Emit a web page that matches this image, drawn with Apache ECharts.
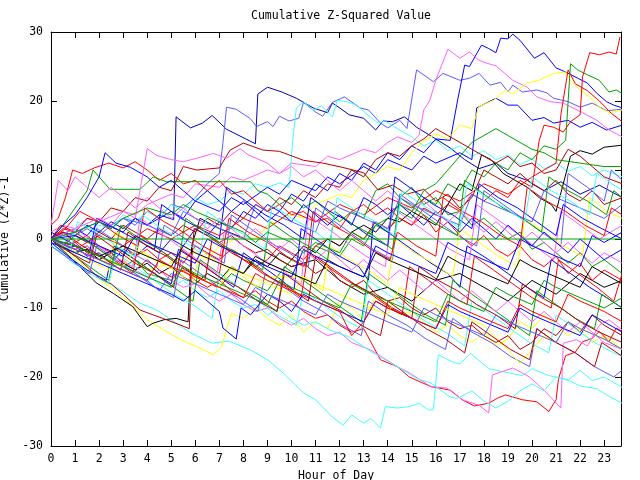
<!DOCTYPE html>
<html>
<head>
<meta charset="utf-8">
<script src="https://cdn.jsdelivr.net/npm/echarts@6/dist/echarts.min.js"></script>
<style>
  html, body { margin: 0; padding: 0; background: #fff; }
  #main { width: 640px; height: 480px; }
</style>
</head>
<body>
<div id="main"></div>
<script>
// each series: [hour, cumulative (z*z)-1] pairs
const s01 = [[0,0],[0.5,1],[1,0.5],[1.5,2],[2,1],[2.5,2.5],[3,1.5],[3.5,3],[4,2],[4.5,3.5],[5.1,2.8],[5.2,17.7],[5.8,16.1],[6.3,16.8],[6.7,17.9],[7.3,15.9],[8.1,14.5],[8.5,13.8],[8.6,21],[9,22],[9.6,21.3],[10.2,20.4],[10.9,19],[11.5,18.3],[11.7,19.7],[12,19],[12.4,18],[13,17.5],[13.5,15.8],[13.8,17.1],[14.2,17],[14.7,17.7],[15.2,16.2],[16,14.5],[16.6,13.2],[17.2,11.5],[17.8,10.2],[18.5,11],[19,9.5],[19.8,8.5],[20.5,7],[21.2,8.3],[22,6.5],[22.8,7.8],[23.75,6]]
const s02 = [[0,0],[0.5,-1],[1,0.5],[1.5,1.5],[2,0.5],[2.5,2],[3,3],[3.5,2],[4,4],[4.5,3],[5,5],[5.5,4.5],[6,6],[6.5,8],[7,9.5],[7.15,14],[7.3,19.1],[7.7,18.8],[8.27,17.5],[8.55,16.3],[9,17],[9.23,16.3],[9.5,17.8],[9.9,17.1],[10.3,17.5],[10.5,19.8],[11,18.4],[11.3,17.8],[11.7,19.8],[12.2,20.6],[12.85,19],[13.2,18.7],[13.7,16.8],[14,16.1],[14.5,17.2],[14.8,16],[15.2,24.5],[15.9,22.8],[16.3,24],[17,23],[17.4,23.3],[17.8,24],[18.25,22.3],[18.7,22.7],[19,21.3],[19.2,22.3],[19.6,21.3],[20.2,21.6],[20.6,21.2],[20.9,20.4],[21.5,19.9],[22,19.1],[22.5,19.7],[23.1,18.6],[23.75,18.8]]
const s03 = [[0,0.5],[0.5,-0.5],[1,1],[1.5,0],[2,2],[2.5,1.5],[3,3.5],[3.5,2.5],[4,4],[4.5,3],[5,5],[5.5,4],[6,6],[6.5,5],[7,5.5],[7.5,7],[8,6.5],[8.5,8],[9,7.5],[9.5,8.1],[9.9,7.5],[10.05,14.3],[10.2,19],[10.5,19.9],[10.9,18.7],[11.25,19.3],[11.7,17.7],[11.9,20.1],[12.3,19.9],[12.7,19.4],[13.1,18.2],[13.6,16.8],[13.9,17.1],[14.3,16.2],[15,14.8],[15.5,13.5],[16,14.3],[16.5,12.8],[17,13.5],[17.5,12],[18,12.8],[18.5,11.5],[19,12.2],[19.5,10.8],[20,11.6],[20.5,10.2],[21,11],[21.5,9.8],[22,10.5],[22.5,9.2],[23,10],[23.75,9]]
const s04 = [[0,0],[0.5,-1.5],[1,-1],[1.5,-2.5],[2,-2],[2.5,-3.5],[3,-1.5],[3.5,-2.5],[4,-1],[4.5,-2],[5,0],[5.5,-1],[6,1.5],[6.5,0.5],[7,2.5],[7.5,1.5],[8,4],[8.5,3],[9,5],[9.5,4],[10,6.5],[10.5,5.5],[11,8],[11.5,7],[12,9.5],[12.5,8.5],[13,11],[13.5,10],[14,12.5],[14.5,11.5],[15,13.5],[15.5,12.5],[16,14.5],[16.6,14.3],[16.9,20],[17.2,25.2],[17.4,25],[17.9,28.1],[18.2,27.6],[18.5,27],[18.7,29.1],[19,29],[19.2,29.7],[19.5,28.8],[20.1,26.2],[20.5,27],[21,24.8],[21.4,24.2],[21.9,23.3],[22.3,22.6],[22.7,21.1],[23.1,19.9],[23.4,19.4],[23.75,19]]
const s05 = [[0,0],[1,1.5],[1.5,0.5],[2,2.5],[3,1],[3.5,3],[4,2],[5,4],[5.5,3],[6,5.5],[7,4],[7.5,6],[8,5],[9,7.5],[9.5,6.5],[10,8.5],[11,7],[11.5,9],[12,8],[13,10.5],[13.5,9.5],[14,11.5],[15,10],[15.5,12],[16,11],[17,12.5],[17.5,11.5],[17.7,19],[18.5,20.4],[19,19.4],[19.4,19.4],[20,17.2],[20.5,17.6],[20.9,16.8],[21.5,17.2],[22,16.2],[22.5,16.9],[23.1,15.8],[23.75,16.5]]
const s06 = [[0,1],[0.5,2],[1,1.5],[1.5,3],[2,2.5],[3,4],[3.5,3.5],[4,5],[5,6.5],[5.5,6],[6,8],[7,7.5],[7.5,9],[8,8.5],[9,10],[9.5,9.5],[10,11],[11,10.5],[11.5,12],[12,11.5],[13,13],[13.5,12.5],[14,14],[14.4,14.8],[15,14],[15.3,15],[15.5,18.7],[15.75,20.1],[16,23],[16.5,27.5],[17,26.2],[17.4,27.1],[17.8,25.9],[18.1,25.5],[18.5,25.1],[19.2,23],[19.8,22],[20.2,20.6],[20.75,19.9],[21.3,19.7],[22.1,18.3],[22.7,17.2],[23.2,15.8],[23.75,14.8]]
const s07 = [[0,0],[0.5,-1],[1,-2],[1.5,-1.5],[2,-3],[3,-4],[3.5,-3],[4,-4.5],[5,-3.5],[6,-2],[6.5,-3],[7,-1],[8,0.5],[8.5,0],[9,2],[10,3.5],[10.5,3],[11,5],[12,6.5],[12.5,6],[13,8.5],[14,10.5],[14.5,10],[15,12.5],[15.5,14.2],[16,15.2],[16.5,14.5],[17,16.5],[17.5,16],[17.8,19.2],[18.4,20.1],[18.9,21.6],[19.2,21],[19.8,22.6],[20.3,23],[20.9,24],[21.4,24.2],[21.6,23],[22,21.6],[22.4,20.6],[22.8,19.1],[23.2,18.3],[23.75,18.7]]
const s08 = [[0,0],[0.5,-1],[1,-2],[1.5,-1],[2,-2.5],[3,-4],[3.5,-3],[4,-5],[5,-6],[5.5,-4],[6,-5.5],[7,-7],[7.5,-5],[8,-6],[9,-7.5],[9.5,-5],[10,-3],[10.5,-4],[11,-1],[12,-2.5],[12.5,0],[13,-1],[13.5,2],[14,1],[14.5,4],[15,3],[15.5,6],[16,5],[16.5,8],[17,7],[17.5,10],[18,9],[18.5,11],[19,10],[19.5,12.5],[20,11.5],[20.5,13.5],[21,13],[21.4,14.3],[21.6,25.4],[21.9,24.5],[22.3,23.8],[22.8,23],[23.2,21.3],[23.5,21.6],[23.75,21.1]]
const s09 = [[0,0],[0.5,1],[1,-0.5],[1.5,0.5],[2,-1],[2.5,-2],[3,-1],[3.5,-2.5],[4,-1.5],[4.5,-3],[5,-2],[5.5,-3.5],[6,-1],[6.5,-2],[7,-3],[7.5,-1.5],[8,-2.5],[8.5,-4],[9,-3],[9.5,-1],[10,-2],[10.5,-3],[11,-1],[11.5,0],[12,-1],[12.5,1],[13,0],[13.5,2.5],[14,1.5],[14.5,3],[15,2],[15.5,4.5],[16,3.5],[16.5,5],[17,4],[17.5,6.5],[18,5.5],[18.5,7],[19,6],[19.5,8.5],[20,7.5],[20.3,14.3],[20.5,16.5],[20.9,16.2],[21.3,15.5],[21.6,17],[22,18],[22.1,23.5],[22.4,27],[22.8,26.7],[23.2,27.1],[23.5,26.8],[23.66,29.3]]
const s10 = [[0,0],[1,-1.5],[2,0.5],[3,-1],[4,1.5],[5,0],[6,2],[7,0.5],[8,3],[9,1.5],[10,4],[11,2.5],[12,5],[13,3.5],[14,6],[15,4.5],[16,7],[17,5.5],[18,8],[19,6.5],[20,9],[20.5,10],[21,11],[21.2,18],[21.5,24.5],[21.8,22.5],[22.3,21.5],[22.8,20],[23.3,18.2],[23.75,17]]
const s11 = [[0,-0.5],[0.9,-3.5],[1.5,-4.5],[2,-5.5],[2.9,-7.4],[3.7,-9.3],[4.4,-10.3],[5.2,-12.2],[5.8,-13.6],[6.7,-15.1],[7.4,-14.8],[8.3,-16.1],[9,-17.5],[9.65,-19.4],[10.5,-22.3],[11,-23.3],[11.7,-25.8],[12.15,-27],[12.5,-25.5],[13,-26.7],[13.3,-26],[13.7,-27.4],[13.9,-24.3],[14.4,-24.5],[14.9,-24.3],[15.3,-23.8],[15.7,-24.8],[15.9,-24.7],[16.1,-16.8],[16.7,-17.8],[17,-18.1],[17.45,-16.6],[18.2,-18.8],[19.6,-19.8],[20,-18.8],[20.7,-19.8],[21.4,-20.3],[22,-21.3],[22.7,-21.7],[23.2,-22.8],[23.75,-23.8]]
const s12 = [[0,0],[0.5,-1.5],[1,-3],[1.5,-4.2],[2,-5.8],[2.5,-7],[3,-8.5],[3.5,-10],[4,-11.7],[4.7,-13.2],[5.4,-14.6],[6.06,-15.6],[6.75,-16.8],[7.1,-15.6],[7.3,-13],[7.5,-10.8],[8,-11.5],[8.5,-10],[9,-11.5],[9.5,-12.5],[10,-11],[10.5,-13.5],[11,-12],[11.5,-13],[12,-9],[12.5,-10],[13,-11.5],[13.5,-8.5],[14,-9.5],[14.5,-11],[15,-10.5],[15.5,-12],[16,-13.5],[16.5,-12.5],[17,-14],[17.5,-15],[18,-13.5],[18.5,-15.5],[19,-14.5],[19.5,-12],[20,-13],[20.5,-11],[21,-12.5],[21.5,-14],[22,-13],[22.5,-15],[23,-14],[23.75,-16]]
const s13 = [[0,0],[0.9,-3],[1.9,-6.4],[2.6,-7.9],[3.4,-9.8],[4,-12.7],[4.25,-12.2],[4.7,-11.7],[5.2,-11.5],[5.7,-12],[5.85,-1],[6.2,3],[7,1.5],[7.9,0.3],[9,-2],[10,-4],[11,-3],[12,-6],[13,-8],[14,-7],[15,-9],[16,-6],[17,-5],[18,-7],[19,-9],[20,-6],[21,-8],[22,-5],[23,-7],[23.75,-6]]
const s14 = [[0,0],[0.5,-1],[1,-2.5],[1.5,-4],[2,-5.7],[2.5,-6.5],[3,-8],[3.7,-10.3],[4.25,-11],[4.8,-11.7],[5.4,-12.5],[5.75,-13],[5.85,-3],[5.95,1.5],[6.5,0.5],[7,-0.5],[7.5,0.5],[8,-1],[8.5,-2],[9,-1.5],[9.5,-3],[10,-4],[10.5,-3.5],[11,-5],[11.5,-4],[12,-6],[12.5,-7],[13,-6],[13.5,-8],[14,-9],[14.5,-8.5],[15,-10],[15.5,-11],[16,-10],[16.5,-12],[17,-13],[17.5,-12.5],[18,-14],[18.5,-15],[19,-14],[19.5,-16],[20,-15],[20.5,-13],[21,-14],[21.5,-12],[22,-13.5],[22.5,-11],[23,-12.5],[23.75,-14]]
const s15 = [[0,0],[0.5,-1],[1,-0.5],[1.5,-2],[2,-3],[2.5,-2],[3,-3.5],[3.5,-4.5],[4,-3],[4.5,-4.5],[5,-5.5],[5.5,-4.5],[6,-6],[6.5,-7],[7,-6],[7.5,-7.5],[8,-8.5],[8.5,-7.5],[9,-9],[9.5,-10],[10,-9],[10.5,-10.5],[11,-11.5],[11.5,-11],[12,-12.5],[12.5,-13.5],[13,-13],[13.7,-17.5],[14.4,-18.5],[14.9,-20],[15.8,-21.4],[16.6,-21.9],[17.1,-23.3],[17.6,-24.2],[18.2,-23.8],[18.6,-23],[18.9,-22.6],[19.6,-23.3],[20.2,-23.6],[20.7,-25],[21,-23.3],[21.1,-20.3],[21.4,-16.9],[21.8,-16.4],[22.1,-14.9],[22.5,-14.4],[22.8,-13.4],[23.2,-14.9],[23.5,-12.9],[23.75,-13.4]]
const s16 = [[0,0],[0.5,-0.5],[1,-1.5],[1.5,-1],[2,-2.5],[2.5,-3.5],[3,-3],[3.5,-4.5],[4,-5.5],[4.5,-4.5],[5,-6],[5.5,-7],[6,-6.5],[6.5,-8],[7,-9],[7.5,-8],[8,-9.5],[8.5,-10.5],[9,-10],[9.5,-11.5],[10,-12.5],[10.5,-11.5],[11,-13],[11.5,-14],[12,-13.5],[12.5,-15],[13.3,-16.1],[14.4,-18.5],[14.8,-19.2],[15.8,-21.4],[16.45,-21.6],[17.1,-23.3],[17.8,-24.1],[18.2,-25.2],[18.35,-19.7],[19.2,-18.7],[19.9,-20],[20.5,-21.9],[21.2,-24.5],[21.3,-15.1],[21.85,-14.6],[22.3,-15.5],[22.8,-12.5],[23.2,-11.7],[23.75,-13.2]]
const s17 = [[0,0],[0.5,-1],[1,-2],[1.5,-1.5],[2,-3],[2.5,-4],[3,-3.5],[3.5,-5],[4,-6],[4.5,-5.5],[5,-7],[5.5,-6],[6,-7.5],[6.5,-8.5],[7,-7.5],[7.5,-9],[8,-10],[8.5,-9.5],[9,-11],[9.5,-10],[10,-11.5],[10.5,-12.5],[11,-12],[11.6,-13.2],[12.4,-14.2],[13.3,-16.3],[14.4,-18.5],[15.2,-20.2],[15.8,-20.9],[16.6,-22.9],[16.9,-23.1],[17.5,-22],[18,-23.5],[18.5,-24.5],[19,-23.5],[19.5,-22],[20,-21],[20.5,-22],[21,-20],[21.5,-20.5],[22,-19],[22.5,-20.5],[23,-20],[23.75,-21.5]]
const s18 = [[0,2],[0.3,3],[0.6,6],[0.9,10],[1.3,9.5],[1.8,10.3],[2.4,11],[3,10.3],[3.5,11.2],[4,10],[4.5,8.5],[5,9.5],[5.5,8],[6,8.5],[6.5,7],[7,8.5],[7.5,6.5],[8,7],[8.5,5.5],[9,4],[9.5,5],[10,3.5],[10.5,4],[11,2.5],[11.5,3],[12,1.5],[12.5,4],[13,5],[13.5,3.5],[14,4.5],[14.5,3],[15,2],[15.5,3.5],[16,1],[16.5,2.5],[17,0.5],[17.5,-1],[18,0.5],[18.5,-1.5],[19,-2.5],[19.5,-1],[20,-3],[20.5,-4],[21,-2.5],[21.5,-5],[22,-3.5],[22.5,-6],[23,-4.5],[23.75,-6]]
const s19 = [[0,0],[0.5,2],[1,4.5],[1.5,7],[1.75,10],[2.45,7.2],[3.7,7.2],[4.25,9],[4.8,8.3],[8.3,8.3],[8.6,7],[9,6.5],[9.5,5],[10,6],[10.5,4.5],[11,5.5],[11.5,4],[12,2.5],[12.5,4],[13,3],[13.5,7],[14,8],[14.5,6],[15,7.5],[15.5,5],[16,6],[16.5,3.5],[17,4],[17.5,2],[18,3],[18.5,1.5],[19,0],[19.5,1],[20,-1.5],[20.5,-0.5],[21,-2],[21.5,-3.5],[22,-2],[22.5,-4],[23,-3],[23.75,-5]]
const s20 = [[0,0],[0.5,-1],[1,-2],[1.5,-1.5],[2,-3],[2.5,-2],[3,-3.5],[3.5,-4.5],[4,-3.5],[4.5,-5],[5,-4],[5.5,-5.5],[6,-6.5],[6.5,-5],[7,-6],[7.5,-4],[8,-5],[8.5,-3],[9,-4],[9.5,-2],[10,-3],[10.5,-1],[11,-2],[11.5,0],[12,-1],[12.5,1],[13,2],[13.5,1],[14,3],[14.5,2.5],[15,4],[15.5,3],[16,2],[16.5,5],[17,8],[17.5,7],[17.9,12.2],[18.3,11.5],[18.8,9.5],[19.3,8.5],[19.8,7.5],[20.3,6],[20.8,5],[21,4],[21.3,8],[21.6,12],[22,12.8],[22.5,12.3],[23,13.3],[23.75,13.6]]
const s21 = [[0,0],[0.5,1.5],[1,1],[1.5,3],[2,2.5],[2.5,4.5],[3,4],[3.5,6],[4,5.5],[4.5,7.5],[5,7],[5.5,10.5],[6.06,10],[7,10.3],[7.45,12.9],[8,13.9],[8.8,12.9],[9.5,12.7],[10.5,11.4],[11.3,11],[12.1,10.4],[13,9.6],[13.6,7.1],[14.2,7.8],[14.8,6.5],[15.5,7.2],[16,5.5],[16.5,6.5],[17,4.5],[17.5,6],[18,10],[18.5,9],[19,8],[19.5,9.5],[20,8],[20.5,7],[21,8.5],[21.5,6.5],[22,5.5],[22.5,7],[23,5],[23.75,6]]
const s22 = [[0,0],[0.5,-1],[1,0.5],[1.5,-0.5],[2,1],[2.5,0],[3,2],[3.5,1],[4,0],[4.5,1.5],[5,0.5],[5.5,2],[6,1],[6.5,3],[7,2],[7.5,4],[8,3],[8.5,5],[9,4],[9.5,6],[10,5],[10.5,7],[11,6],[11.5,8],[12,7.5],[12.5,10],[13,9],[13.5,11.5],[14,12.5],[14.5,12],[15,13.5],[15.5,14.5],[16,16],[16.5,15],[17,14],[17.5,13],[18,12],[18.5,11],[19,12],[19.5,10.5],[20,11],[20.5,9.5],[21,10],[21.5,13],[22,12],[22.5,10.5],[23,9],[23.75,8]]
const s23 = [[0,-0.5],[0.7,-2.5],[1.5,-4.5],[2.3,-6],[2.6,-1],[3.5,-3],[4.3,-5],[5,-6.5],[5.3,-1.5],[6.2,-3.5],[7,-5.5],[7.6,-7],[8,-2],[8.8,-4],[9.6,-6],[10.1,-7.5],[10.4,1.5],[11.2,-0.5],[12,-2.5],[12.8,-4],[13.2,-6],[13.4,2.5],[14.2,0.5],[15,-1.5],[15.8,-3.5],[16.5,-5],[17,-7],[17.3,-1],[18.2,-3],[19,-5],[19.8,-7],[20.5,-8.5],[20.8,-3],[21.6,-5],[22.4,-7],[23.1,-8.5],[23.75,-10]]
const s24 = [[0,0.5],[0.8,-1.5],[1.6,-3],[1.9,1.5],[2.8,-0.5],[3.6,-2.5],[4.4,-4],[4.7,2],[5.6,0],[6.4,-2],[7.2,-3.5],[7.5,3.5],[8.3,1.5],[9.1,-0.5],[9.9,-2],[10.7,-4],[11,4.5],[11.8,2.5],[12.6,0.5],[13.4,-1.5],[14.2,-3],[14.5,6.5],[15.3,4.5],[16.1,2.5],[16.9,0.5],[17.7,-1],[18,7],[18.8,5],[19.6,3],[20.4,1],[21.2,-1],[21.5,9.5],[22.3,7.5],[23,5.5],[23.3,10],[23.75,8.5]]
const s25 = [[0,0],[0.4,2],[1,1],[1.8,-1],[2.6,-3],[3.4,-5],[3.7,0.5],[4.5,-1.5],[5.3,-3.5],[6.1,-5.5],[6.9,-7],[7.2,-1],[8,-3],[8.8,-5],[9.6,-6.5],[10.4,-8.5],[10.7,-2],[11.5,-4],[12.3,-6],[13.1,-7.5],[13.9,-9.5],[14.6,-11],[14.9,-4],[15.7,-6],[16.5,-8],[17.3,-9.5],[17.6,-2.5],[18.4,-4.5],[19.2,-6.5],[20,-8.5],[20.8,-10],[21.1,-3],[21.9,-5],[22.7,-7],[23.4,-9],[23.75,-5]]
const s26 = [[0,0],[0.8,-2],[1.6,-4],[2.4,-6],[2.7,-1],[3.5,-3],[4.3,-5],[5.1,-7],[5.9,-9],[6.2,-3],[7,-5],[7.8,-7],[8.6,-8.5],[9.4,-10.5],[9.7,-4],[10.5,-6],[11.3,-8],[12.1,-10],[12.9,-12],[13.2,-5],[14,-7],[14.8,-9],[15.6,-11],[16.4,-12.5],[16.7,-6],[17.5,-8],[18.3,-10],[19.1,-12],[19.9,-14],[20.2,-7.5],[21,-9.5],[21.8,-11.5],[22.6,-13],[22.9,-8],[23.75,-10]]
const s27 = [[0,0],[0.5,-1],[1,1.5],[1.8,-0.5],[2.6,-2.5],[3.4,-4],[3.7,3],[4.5,1],[5.3,-1],[6.1,-3],[6.9,-5],[7.2,1],[8,-1],[8.8,-3],[9.6,-4.5],[10.4,-6.5],[10.7,3.5],[11.5,1.5],[12.3,-0.5],[13.1,-2.5],[13.9,-4],[14.2,4.5],[15,2.5],[15.8,0.5],[16.6,-1.5],[17.4,-3],[17.7,5],[18.5,3],[19.3,1],[20.1,-1],[20.9,-3],[21.2,4],[22,2],[22.8,0],[23.75,2]]
const s28 = [[0,-1],[0.8,-3],[1.6,-5],[2.4,-6.5],[2.7,-2],[3.5,-4],[4.3,-6],[5.1,-8],[5.9,-9.5],[6.7,-11.5],[7,-5],[7.8,-7],[8.6,-9],[9.4,-11],[10.2,-12.5],[10.5,-7.5],[11.3,-9.5],[12.1,-11.5],[12.9,-13],[13.2,-6],[14,-8],[14.8,-10],[15.6,-12],[16.4,-13.5],[17.2,-15.5],[17.5,-9],[18.3,-11],[19.1,-13],[19.9,-15],[20.7,-16.5],[21,-11],[21.8,-13],[22.6,-15],[23.4,-16.5],[23.75,-17]]
const s29 = [[0,0],[0.8,-1.5],[1.6,-3],[2.4,-4.5],[2.7,1],[3.5,-1],[4.3,-3],[5.1,-4.5],[5.9,-6.5],[6.2,-1.5],[7,-3.5],[7.8,-5],[8.6,-7],[8.9,-5.5],[9.7,-5.5],[10.5,-5.5],[11.3,-7.5],[11.6,-1],[12.4,-3],[13.2,-4.5],[14,-6.5],[14.3,0],[15.1,-2],[15.9,-3.5],[16.7,-5.5],[17,1.5],[17.8,-0.5],[18.6,-2.5],[19.4,-4],[19.7,3],[20.5,1],[21.3,-1],[22.1,-2.5],[22.4,6],[23.1,4],[23.75,3]]
const s30 = [[0,1],[0.8,-0.5],[1.6,-2],[1.9,3],[2.7,1.5],[3.5,0],[4.3,-1.5],[4.6,5],[5.4,3],[6.2,1.5],[7,0],[7.3,7.5],[8.1,5.5],[8.9,3.5],[9.7,2],[10.5,0],[10.8,6],[11.6,4],[12.4,2.5],[13.2,0.5],[14,-1],[14.3,9],[15.1,7],[15.9,5],[16.7,3.5],[17.5,1.5],[17.8,8],[18.6,6],[19.4,4.5],[20.2,2.5],[21,0.5],[21.3,5],[22.1,3],[22.9,1.5],[23.75,0]]
const s31 = [[0,-1],[0.8,-3],[1.6,-5],[1.9,-1],[2.7,-3],[3.5,-5],[4.3,-7],[5.1,-8.5],[5.4,-3],[6.2,-5],[7,-7],[7.8,-8.5],[8.6,-10.5],[8.9,-5],[9.7,-7],[10.5,-9],[11.3,-10.5],[12.1,-12.5],[12.9,-14],[13.2,-9],[14,-11],[14.8,-12.5],[15.6,-14.5],[16.4,-16],[16.7,-11.5],[17.5,-13.5],[18.3,-15],[19.1,-17],[19.9,-18.5],[20.2,-13],[21,-15],[21.8,-16.5],[22.6,-18.5],[23.4,-20],[23.75,-19]]
const s32 = [[0,0],[0.5,1],[1.3,-1],[2.1,-2.5],[2.9,-4.5],[3.2,1],[4,-1],[4.8,-2.5],[5.6,-4.5],[6.4,-6],[6.7,0],[7.5,-2],[8.3,-3.5],[9.1,-5.5],[9.9,-7],[10.7,-9],[11,-2.5],[11.8,-4.5],[12.6,-6.5],[13.4,-8],[14.2,-10],[15,-11.5],[15.3,-4],[16.1,-6],[16.9,-7.5],[17.7,-9.5],[18.5,-11],[19.3,-13],[19.6,-6.5],[20.4,-8.5],[21.2,-10],[22,-12],[22.8,-13.5],[23.75,-15]]
const s33 = [[0,0],[0.5,-1],[1,0.5],[1.8,-1],[2.6,-3],[2.9,2],[3.7,0],[4.5,-1.5],[5.3,-3.5],[5.6,3],[6.4,1],[7.2,-1],[8,-2.5],[8.8,-4.5],[9.1,2.5],[9.9,0.5],[10.7,-1],[11.5,-3],[11.8,4],[12.6,2],[13.4,0.5],[14.2,-1.5],[14.5,6],[15.3,4],[16.1,2],[16.9,0.5],[17.2,8.5],[18,6.5],[18.8,4.5],[19.6,3],[20.4,1],[20.7,9],[21.5,7],[22.3,5.5],[23.1,3.5],[23.4,7],[23.75,6]]
const s34 = [[0,0],[0.6,1.5],[1.2,4],[2,2.5],[2.8,0.5],[3.6,-1],[3.9,4.5],[4.7,2.5],[5.5,1],[6.3,-1],[7.1,-2.5],[7.4,3],[8.2,1],[9,-0.5],[9.8,-2.5],[10.6,-4],[10.9,4],[11.7,2],[12.5,0.5],[13.3,-1.5],[14.1,-3],[14.4,1],[15.2,-1],[16,-2.5],[16.3,6],[17.1,4],[17.9,2.5],[18.7,0.5],[19.5,-1],[19.8,7.5],[20.6,5.5],[21.4,4],[22.2,2],[23,0.5],[23.3,4.5],[23.75,3.5]]
const s35 = [[0,2],[0.3,8.5],[0.7,7],[1,9],[1.5,7.5],[2,6],[2.5,7.5],[3,6],[3.5,4.5],[4,6],[4.5,4.5],[5,3],[5.5,4.5],[6,3],[6.5,1.5],[7,3],[7.5,1.5],[8,0],[8.5,1.5],[9,0],[9.5,-1.5],[10,0],[10.5,-1.5],[11,-3],[11.5,-1.5],[12,-3],[12.5,-4.5],[13,-3],[13.5,-4.5],[14,-6],[14.5,-4.5],[15,-6],[15.5,-7.5],[16,-6],[16.5,-7.5],[17,-9],[17.5,-7.5],[18,-9],[18.5,-10.5],[19,-9],[19.5,-10.5],[20,-12],[20.5,-10.5],[21,-12],[21.5,-13.5],[22,-12],[22.5,-13.5],[23,-15],[23.75,-16]]
const s36 = [[0,-0.5],[1,-2],[2,-3.5],[3,-5],[4,-6.5],[5,-8],[5.5,-9],[6,-7.5],[6.5,-9],[7,-10.5],[7.15,-12.9],[7.7,-14.5],[7.9,-10],[8.3,-11],[9,-8],[9.5,-9],[10,-10.5],[10.5,-8],[11,-9],[12,-10.5],[13,-12],[13.5,-9],[14,-10],[15,-11.5],[16,-13],[16.5,-9.5],[17,-10.5],[18,-12],[19,-13.5],[19.5,-10],[20,-11],[21,-12.5],[22,-14],[22.5,-11],[23,-12],[23.75,-13.5]]
const s37 = [[0,0],[1,1],[2,2.5],[2.5,1.5],[3,3],[4,2],[5,0.5],[5.5,4],[6,3],[7,1.5],[8,0],[8.5,5],[9,4],[10,2.5],[11,1],[11.5,5.5],[12,4.5],[13,3],[14,1.5],[14.5,6],[15,5],[16,3.5],[17,2],[17.5,6.5],[18,5.5],[19,4],[20,2.5],[20.5,7],[21,6],[22,4.5],[23,3],[23.75,5]]
const s38 = [[0,0],[1,-1],[2,-2.5],[3,-4],[3.5,-1.5],[4,-2.5],[5,-4],[6,-5.5],[7,-7],[7.5,-4],[8,-5],[9,-6.5],[10,-8],[10.5,-5.5],[11,-6.5],[12,-8],[13,-9.5],[14,-11],[14.5,-7],[15,-8],[16,-9.5],[17,-11],[18,-12.5],[18.7,-15],[19.5,-18],[20,-16],[20.5,-14],[21,-15],[21.5,-12],[22,-13],[23,-14.5],[23.75,-16]]
const s39 = [[0,0],[0.8,-2],[1.6,-3.5],[1.9,0.5],[2.7,-1.5],[3.5,-3.5],[4.3,-5],[5.1,-7],[5.4,-1.5],[6.2,-3.5],[7,-5.5],[7.8,-7],[8.6,-9],[9.4,-10.5],[9.7,-5],[10.5,-7],[11.3,-9],[12.1,-10.5],[12.9,-12.5],[13.7,-14],[14,-9],[14.8,-11],[15.6,-13],[16.4,-14.5],[17.2,-16.5],[17.5,-12],[18.3,-14],[19.1,-16],[19.9,-17.5],[20.2,-13],[21,-15],[21.8,-16.5],[22.6,-18.5],[22.9,-15],[23.75,-17]]
const s40 = [[0,0],[1,-1],[2,-2.5],[3,-1],[4,-2.5],[5,-4],[5.5,-1],[6,-2],[7,-3.5],[8,-5],[8.5,-2.5],[9,-3.5],[10,-5],[11,-6.5],[11.5,-3],[12,-4],[13,-5.5],[13.5,-2],[14,-3],[15,-4.5],[16,-6],[16.5,-2.5],[17,-3.5],[18,-5],[19,-6.5],[19.5,-3],[20,-4],[21,-5.5],[22,-7],[22.5,-4],[23,-5],[23.75,-6.5]]
const s41 = [[0,0],[0.5,2],[1,3.5],[1.5,6],[2,9],[2.25,12.5],[2.7,11],[3.3,10.4],[4,9],[4.5,7.5],[5,8.5],[5.5,7],[6,5.5],[6.5,7],[7,5.5],[7.5,4],[8,5.5],[8.5,4],[9,2.5],[9.5,4],[10,2.5],[10.5,5],[11,3.5],[11.5,2],[12,3.5],[12.5,2],[13,6],[13.5,5],[14,3.5],[14.5,5],[15,3.5],[15.5,2],[16,4],[16.5,2.5],[17,1],[17.5,3],[18,1.5],[18.5,0],[19,2],[19.5,0.5],[20,-1],[20.5,1],[21,-0.5],[21.5,-2],[22,0],[22.5,-1.5],[23,-3],[23.75,-1.5]]
const s42 = [[0,0],[1,1.5],[2,3],[2.5,2],[3,4],[3.5,3],[4,13.1],[4.4,12.1],[5,11.5],[5.5,11.2],[6.06,11.7],[6.75,12.4],[7.3,11.7],[7.86,13.1],[8.2,12.2],[9,11],[9.5,9.5],[10,10.5],[10.5,9],[11,10],[11.5,8.5],[12,7],[12.5,8.5],[13,7],[13.5,5.5],[14,7],[14.5,5.5],[15,4],[15.5,5.5],[16,4],[16.5,2.5],[17,4],[17.5,2.5],[18,1],[18.5,2.5],[19,1],[19.5,-0.5],[20,1],[20.5,-0.5],[21,-2],[21.5,-0.5],[22,-2],[22.5,-3.5],[23,-2],[23.75,-3.5]]
const s43 = [[0,0],[1,-1],[2,-2.5],[3,-4],[4,-5.5],[5,-7],[5.5,-4],[6,-5],[7,-6.5],[8,-8],[9,-9.5],[9.5,-6],[10,-7],[11,-8.5],[12,-10],[12.5,-6.5],[13,-7.5],[14,-9],[15,-10.5],[16,-12],[16.5,-8],[17,-9],[18,-10.5],[18.5,-7],[19,-8],[20,-9.5],[20.5,-6],[21,-7],[22,-8.5],[23,-10],[23.75,-8.5]]
const s44 = [[0,0],[0.8,-1.5],[1.1,2.5],[1.9,1],[2.7,-1],[3.5,-2.5],[3.8,3.5],[4.6,1.5],[5.4,0],[6.2,-2],[6.5,4],[7.3,2],[8.1,0.5],[8.9,-1.5],[9.2,5],[10,3],[10.8,1.5],[11.6,-0.5],[11.9,6],[12.7,4],[13.5,2.5],[14.3,0.5],[14.6,7],[15.4,5],[16.2,3.5],[17,1.5],[17.3,8],[18.1,6],[18.9,4.5],[19.7,2.5],[20,9],[20.8,7],[21.6,5.5],[22.4,3.5],[22.7,9.5],[23.75,7]]
const s45 = [[0,0],[1,-1.5],[2,-3],[3,-4.5],[4,-6],[4.5,-3],[5,-4],[6,-5.5],[7,-7],[8,-8.5],[8.5,-5],[9,-6],[10,-7.5],[11,-9],[12,-10.5],[12.5,-14],[13,-12],[13.5,-9],[14,-10],[15,-11.5],[16,-13],[16.5,-9],[17,-10],[18,-11.5],[19,-13],[19.5,-9.5],[20,-10.5],[21,-12],[21.5,-8],[22,-9],[23,-10.5],[23.75,-12]]
const s46 = [[0,0],[1,-1.5],[2,-3],[3,-4.5],[4,-6],[4.5,-7.5],[5,-5],[6,-6.5],[7,-8],[8,-9.5],[8.5,-7],[9,-8],[10,-9.5],[11,-11],[11.5,-8],[12,-9],[13,-10.5],[14,-12],[15,-13.5],[15.5,-10],[16,-11],[17,-12.5],[18,-14],[18.5,-11],[19,-12],[20,-13.5],[21,-15],[21.5,-12],[22,-13],[23,-14.5],[23.75,-16]]
const s47 = [[0,0],[1,0.5],[2,-1],[3,-2.5],[3.5,0.5],[4,-0.5],[5,-2],[6,-3.5],[6.5,0],[7,-1],[8,-2.5],[9,-4],[10,-5.5],[10.5,-1.5],[11,-2.5],[12,-4],[13,-5.5],[13.5,-1],[14,-2],[15,-3.5],[16,-5],[16.5,-0.5],[17,-1.5],[18,-3],[19,-4.5],[19.5,0],[20,-1],[21,-2.5],[22,-4],[22.5,0.5],[23,-0.5],[23.75,1]]
const s48 = [[0,0],[1,1],[2,2.5],[2.5,1.5],[3,3],[4,4.5],[5,3.5],[5.5,5],[6,4],[7,2.5],[8,1],[8.5,-0.5],[9,1],[10,-0.5],[10.5,-2],[11,-0.5],[12,-2],[12.5,1],[13,0],[13.5,2],[14,3],[14.5,5],[15,4],[15.5,7],[16,8],[16.5,10],[17,12],[17.5,14],[18,15],[18.5,16],[19,15],[19.5,14],[20,13],[20.5,12.5],[21,11.5],[22,11],[23,10.5],[23.75,10.5]]
// the flat green record that sits on zero all day
const flatZero = [[0,0],[23.75,0]]

const RED = '#ff0000', DRED = '#b40000', GREEN = '#00a000', BLUE = '#0000ff', NAVY = '#0000b4'
const LBLUE = '#5a5aff', MAG = '#ff60ff', CYAN = '#40ffff', YEL = '#ffff00', BLK = '#000000'

const runs = [s01, s02, s03, s04, s05, s06, s07, s08, s09, s10, s11, s12, s13, s14, s15, s16,
  s17, s18, s19, s20, s21, s22, s23, s24, s25, s26, s27, s28, s29, s30, s31, s32,
  s33, s34, s35, s36, s37, s38, s39, s40, s41, s42, s43, s44, s45, s46, s47, s48, flatZero]
const runColors = [NAVY, LBLUE, CYAN, BLUE, BLUE, MAG, YEL, GREEN, RED, RED, CYAN, YEL, BLK, DRED, RED, MAG,
  CYAN, RED, GREEN, BLK, DRED, DRED, BLUE, LBLUE, RED, GREEN, MAG, CYAN, YEL, BLUE, LBLUE, DRED,
  GREEN, RED, MAG, BLUE, LBLUE, YEL, DRED, BLK, BLUE, MAG, GREEN, CYAN, RED, LBLUE, BLUE, GREEN, GREEN]

const FONT = 'DejaVu Sans Mono'

const chart = echarts.init(document.getElementById('main'))

const series = runs.map((run, i) => ({
  type: 'line',
  data: run,
  showSymbol: false,
  symbol: 'none',
  lineStyle: { width: 1, color: runColors[i] },
  itemStyle: { color: runColors[i] },
  emphasis: { disabled: true },
}))

const frameAxis = {
  axisLine: { show: true, onZero: false, lineStyle: { color: '#000', width: 1 } },
  axisTick: { show: true, inside: true, length: 6, lineStyle: { color: '#000' } },
  splitLine: { show: false },
}
const labelFont = { fontFamily: FONT, fontSize: 11.5, color: '#000' }

chart.setOption({
  animation: false,
  backgroundColor: '#fff',
  title: {
    text: 'Cumulative Z-Squared Value',
    left: 336,
    top: 5,
    textAlign: 'center',
    textStyle: { ...labelFont, fontWeight: 'normal' },
  },
  grid: { left: 51, right: 19, top: 32, bottom: 34, containLabel: false, outerBoundsMode: 'none' },
  xAxis: [
    {
      type: 'value',
      min: 0,
      max: 23.7,
      interval: 1,
      name: 'Hour of Day',
      nameLocation: 'middle',
      nameGap: 22,
      nameTextStyle: labelFont,
      axisLabel: {
        ...labelFont,
        margin: 7,
        showMaxLabel: false,
        formatter: v => (Number.isInteger(v) ? String(v) : ''),
      },
      ...frameAxis,
    },
    {
      type: 'value',
      position: 'top',
      min: 0,
      max: 23.7,
      interval: 1,
      axisLabel: { show: false },
      ...frameAxis,
    },
  ],
  yAxis: [
    {
      type: 'value',
      min: -30,
      max: 30,
      interval: 10,
      name: 'Cumulative (Z*Z)-1',
      nameLocation: 'middle',
      nameRotate: 90,
      nameGap: 35,
      nameTextStyle: labelFont,
      axisLabel: { ...labelFont, margin: 8 },
      ...frameAxis,
    },
    {
      type: 'value',
      position: 'right',
      min: -30,
      max: 30,
      interval: 10,
      axisLabel: { show: false },
      ...frameAxis,
    },
  ],
  series,
})
</script>
</body>
</html>
